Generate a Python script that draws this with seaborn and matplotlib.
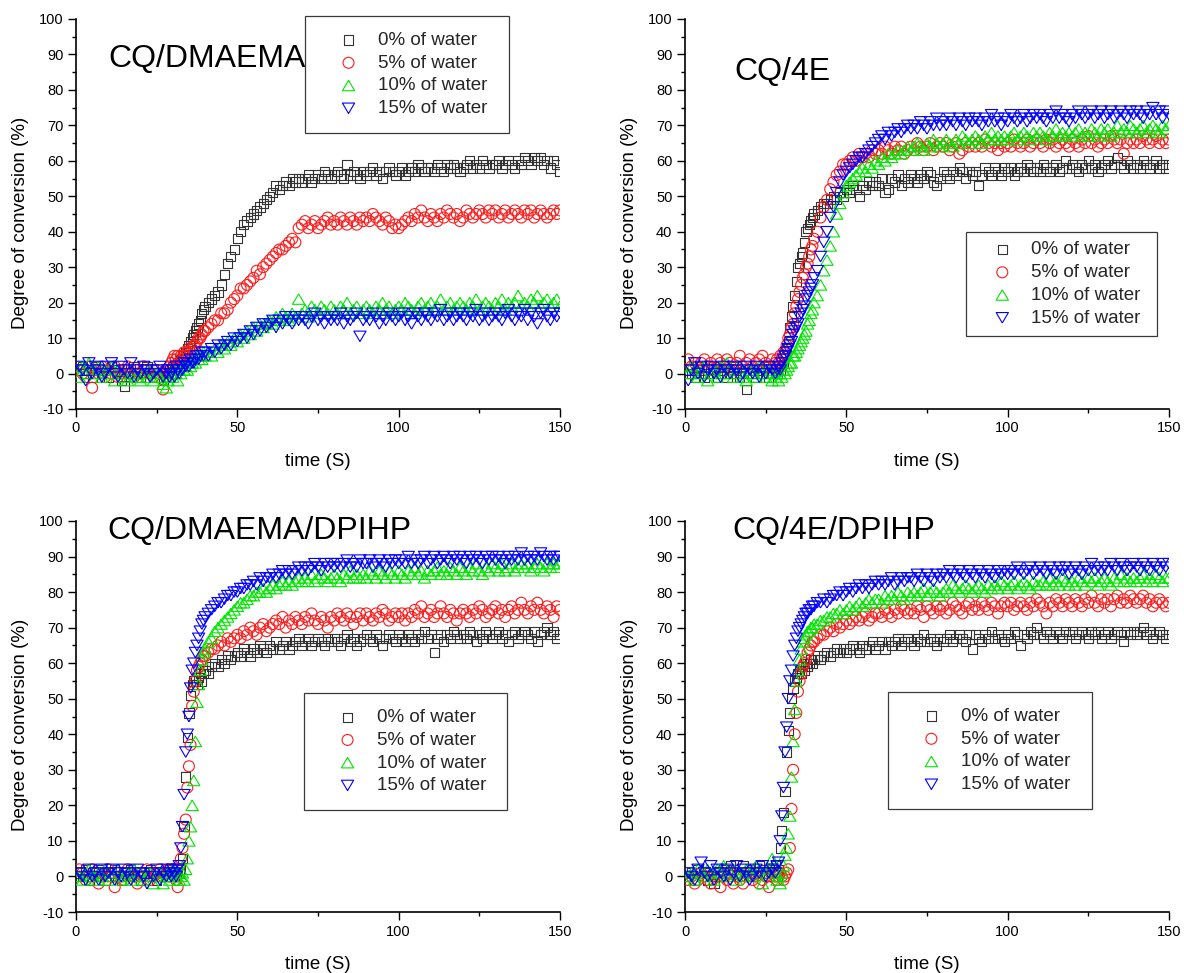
import numpy as np
import pandas as pd
import matplotlib
matplotlib.use("Agg")
import matplotlib.pyplot as plt
from matplotlib.ticker import MultipleLocator
import seaborn as sns

# ---------------- data ----------------
# sampling times (s): 1 s steps, 0.5 s steps around the onset of irradiation
time_s = np.concatenate([np.arange(1, 28, 1.0), np.arange(28, 40, 0.5), np.arange(40, 151, 1.0)])

series_labels = ["0% of water", "5% of water", "10% of water", "15% of water"]
panel_titles = ["CQ/DMAEMA", "CQ/4E", "CQ/DMAEMA/DPIHP", "CQ/4E/DPIHP"]
x_ticks = [0, 50, 100, 150]
y_ticks = [-10, 0, 10, 20, 30, 40, 50, 60, 70, 80, 90, 100]

# CQ/DMAEMA
dmaema_w0 = [1, 2, 0, 1, -1, 2, 1, 0, 1, -1, 2, 0, 1, -2, -3.5, 0, 1, 2, 0, -1, 1, 2, 0, 1, -1, 0, -2] + \
    [0, -1, 1, 0, 2, 1, 2, 3, 3, 4, 5, 5, 6, 7, 8, 9, 10, 11, 12, 13, 14, 15, 17, 18] + \
    [19, 20, 21, 22, 23, 25, 28, 31, 33, 35,
     38, 40, 42, 43, 44, 45, 46, 47, 48, 49,
     50, 51, 53, 52, 53, 54, 53, 55, 54, 55,
     54, 55, 56, 54, 55, 56, 55, 57, 56, 55,
     56, 57, 56, 55, 59, 56, 57, 56, 55, 57,
     56, 57, 58, 56, 57, 55, 57, 58, 57, 56,
     57, 58, 56, 57, 58, 57, 59, 58, 57, 58,
     58, 57, 59, 58, 57, 59, 58, 59, 58, 57,
     58, 59, 60, 58, 59, 58, 60, 59, 58, 59,
     59, 60, 58, 59, 60, 59, 58, 60, 59, 61,
     60, 59, 61, 60, 61, 59, 60, 58, 60, 59, 57]
dmaema_w5 = [1, 0, -1, 2, -4, 1, 0, 2, -1, 1, 0, 2, -1, 0, 1, 2, 0, -1, 1, 0, 2, 1, 0, -1, 1, 0, -4.5] + \
    [-1, 1, 2, 3, 4, 5, 4, 5, 3, 5, 4, 6, 5, 6, 7, 6, 7, 8, 8, 9, 10, 10, 11, 12] + \
    [12, 13, 14, 15, 15, 17, 17, 18, 20, 21,
     22, 24, 24, 25, 26, 27, 29, 28, 30, 31,
     32, 33, 34, 35, 35, 36, 37, 38, 37, 41,
     42, 43, 41, 42, 43, 41, 42, 43, 44, 42,
     43, 42, 44, 43, 42, 44, 43, 42, 44, 43,
     44, 43, 45, 44, 43, 42, 44, 43, 41, 42,
     41, 42, 43, 44, 43, 45, 44, 46, 44, 43,
     45, 44, 43, 45, 44, 46, 45, 44, 45, 43,
     44, 46, 45, 44, 45, 46, 45, 44, 46, 45,
     46, 44, 45, 46, 44, 45, 46, 45, 44, 46,
     45, 46, 44, 45, 46, 45, 44, 45, 46, 45, 46]
dmaema_w10 = [-1, 2, 0, 3, 1, 0, 2, -1, 1, 0, 2, -2, 1, 0, -1, -2, 1, 0, -1, -2, 0, -1, 1, -2, 0, -1, -3] + \
    [-4, -2, -1, 0, -1, 1, 0, -2, 1, 0, 2, 1, 2, 1, 3, 2, 3, 4, 3, 5, 4, 5, 4, 6] + \
    [5, 6, 5, 7, 6, 8, 7, 9, 8, 10,
     9, 11, 10, 12, 11, 13, 12, 14, 13, 14,
     15, 14, 16, 15, 17, 16, 15, 17, 16, 21,
     17, 18, 16, 19, 18, 17, 19, 18, 17, 19,
     18, 17, 19, 18, 20, 17, 18, 19, 17, 18,
     19, 18, 17, 19, 18, 20, 18, 19, 17, 18,
     19, 18, 20, 19, 18, 17, 19, 20, 18, 19,
     20, 18, 19, 21, 18, 19, 20, 18, 19, 20,
     19, 18, 20, 19, 21, 18, 19, 20, 19, 18,
     20, 19, 21, 18, 20, 19, 20, 22, 19, 20,
     19, 21, 20, 22, 19, 20, 21, 19, 20, 21, 19]
dmaema_w15 = [2, 1, -2, 3, 0, 2, 1, -1, 0, 2, 3, 0, -1, 2, 1, 0, 3, -1, 1, 0, 2, 1, -1, 0, 1, 2, -1] + \
    [0, 1, -1, 0, 1, -1, 2, 1, 0, 2, 1, 3, 2, 3, 2, 4, 3, 3, 4, 5, 4, 5, 6, 5] + \
    [6, 5, 7, 6, 8, 7, 8, 9, 8, 10,
     9, 10, 11, 10, 12, 11, 13, 12, 14, 13,
     14, 15, 13, 15, 14, 16, 15, 14, 16, 15,
     16, 15, 14, 16, 17, 15, 16, 14, 16, 15,
     16, 15, 17, 14, 16, 15, 16, 17, 10.5, 15,
     16, 15, 17, 16, 14, 16, 15, 17, 16, 15,
     16, 17, 15, 16, 14, 17, 16, 15, 17, 16,
     15, 17, 16, 18, 15, 16, 17, 15, 16, 17,
     16, 15, 17, 16, 18, 15, 16, 17, 15, 16,
     17, 16, 15, 17, 18, 16, 15, 17, 16, 18,
     15, 17, 16, 14, 17, 18, 16, 15, 17, 16, 17]

# CQ/4E
e4_w0 = [1, 0, -1, 2, 1, -1, 0, 1, 2, -1, 0, 1, -1, 0, 2, 1, -1, 0, -4.5, 1, 0, -1, 1, 0, 2, -1, 0] + \
    [1, 0, 2, 1, 2, 3, 5, 7, 9, 13, 16, 19, 22, 26, 30, 31, 33, 34, 37, 40, 41, 42, 43, 44] + \
    [45, 46, 47, 48, 48, 49, 50, 49, 51, 50,
     52, 51, 53, 52, 50, 53, 52, 54, 53, 54,
     53, 55, 51, 52, 55, 54, 56, 53, 55, 54,
     56, 55, 54, 56, 55, 57, 56, 54, 53, 55,
     57, 56, 55, 57, 56, 58, 57, 55, 57, 56,
     57, 53, 56, 58, 57, 56, 58, 57, 56, 58,
     57, 58, 56, 57, 58, 57, 59, 58, 57, 58,
     57, 59, 58, 57, 58, 59, 57, 58, 60, 58,
     59, 58, 57, 59, 58, 60, 58, 59, 57, 58,
     59, 60, 58, 59, 61, 59, 58, 60, 59, 58,
     59, 58, 60, 59, 58, 59, 60, 58, 59, 58, 59]
e4_w5 = [4, 2, 3, 1, 3, 4, 2, 3, 1, 4, 3, 2, 4, 3, 1, 3, 5, 2, 3, 4, 2, 3, 4, 5, 3, 2, 4] + \
    [3, 4, 3, 5, 4, 6, 6, 8, 10, 11, 13, 14, 17, 19, 21, 23, 25, 27, 28, 30, 31, 33, 35, 36] + \
    [38, 40, 44, 47, 49, 52, 54, 56, 57, 59,
     59, 60, 61, 60, 62, 61, 62, 61, 63, 62,
     63, 62, 64, 63, 62, 64, 63, 64, 62, 63,
     64, 63, 65, 64, 63, 64, 65, 63, 64, 65,
     64, 65, 63, 64, 65, 62, 63, 65, 64, 65,
     64, 65, 64, 66, 65, 64, 65, 63, 65, 64,
     65, 64, 66, 65, 64, 65, 66, 64, 65, 66,
     65, 64, 66, 65, 66, 64, 65, 66, 65, 64,
     66, 65, 64, 66, 65, 67, 65, 66, 64, 65,
     66, 65, 67, 66, 65, 66, 62, 65, 66, 65,
     66, 65, 67, 66, 65, 66, 67, 65, 66, 65, 66]
e4_w10 = [0, 2, 1, -1, 0, 2, -2, 0, 1, -1, 2, 0, 3, 1, -1, 0, 2, -1, -2, 1, 0, -1, 2, 0, -1, 1, -2] + \
    [-1, 0, -2, 0, -1, 1, 0, 1, 2, 3, 3, 5, 5, 6, 7, 8, 9, 10, 11, 12, 14, 15, 17, 18] + \
    [20, 22, 25, 29, 32, 36, 40, 45, 48, 51,
     53, 54, 55, 56, 57, 58, 57, 59, 58, 60,
     59, 61, 60, 62, 61, 62, 63, 62, 63, 64,
     63, 64, 65, 64, 63, 65, 64, 66, 65, 64,
     65, 66, 65, 64, 66, 65, 67, 66, 65, 66,
     67, 66, 65, 67, 66, 68, 66, 67, 66, 67,
     66, 67, 68, 66, 67, 68, 67, 66, 68, 67,
     68, 67, 66, 68, 67, 69, 67, 68, 67, 68,
     67, 68, 69, 67, 68, 67, 69, 68, 67, 69,
     68, 69, 67, 68, 70, 68, 69, 68, 70, 69,
     68, 69, 70, 68, 69, 70, 69, 68, 70, 69, 70]
e4_w15 = [-2, 1, 3, 0, 2, -1, 1, 2, 0, 1, -1, 2, 1, 0, 2, 1, -1, 0, 2, 1, 0, 2, -1, 1, 0, 2, 1] + \
    [0, 1, 2, 1, 3, 4, 5, 6, 7, 8, 9, 11, 12, 13, 14, 16, 17, 18, 19, 21, 22, 23, 24, 25] + \
    [27, 29, 33, 37, 40, 44, 47, 51, 54, 56,
     57, 58, 59, 60, 61, 61, 62, 63, 64, 65,
     66, 67, 66, 68, 67, 68, 69, 68, 69, 70,
     69, 70, 69, 71, 70, 69, 71, 70, 72, 70,
     71, 70, 72, 71, 70, 72, 71, 70, 72, 71,
     72, 71, 70, 72, 71, 73, 71, 72, 70, 72,
     71, 73, 72, 71, 72, 73, 71, 72, 73, 72,
     73, 72, 71, 73, 72, 74, 72, 73, 72, 71,
     73, 72, 74, 73, 72, 73, 74, 72, 73, 74,
     72, 73, 74, 72, 73, 74, 73, 72, 74, 73,
     74, 73, 72, 74, 73, 75, 73, 74, 72, 74, 73]

# CQ/DMAEMA/DPIHP
dmaema_dpi_w0 = [1, 0, 2, -1, 1, 0, 2, 1, -1, 0, 1, 2, 0, -1, 1, 0, 2, 1, 0, -1, 1, 0, 2, 1, -1, 0, 1] + \
    [0, 1, 2, 0, 1, 0, 1, 2, 1, 2, 5, 14, 28, 39, 46, 51, 54, 55, 55, 54, 56, 57, 55, 57] + \
    [58, 57, 59, 60, 59, 61, 60, 62, 61, 62,
     63, 62, 64, 63, 62, 64, 63, 65, 64, 63,
     65, 64, 66, 64, 65, 66, 64, 65, 66, 67,
     65, 66, 67, 65, 66, 67, 66, 65, 67, 66,
     67, 66, 65, 67, 68, 66, 67, 65, 66, 67,
     68, 67, 66, 68, 67, 65, 67, 68, 67, 66,
     68, 67, 66, 68, 67, 66, 68, 67, 69, 67,
     68, 63, 67, 68, 66, 68, 67, 69, 68, 67,
     68, 67, 69, 68, 66, 68, 67, 69, 68, 67,
     68, 69, 67, 68, 66, 68, 69, 67, 68, 69,
     68, 67, 69, 66, 68, 69, 70, 68, 69, 67, 68]
dmaema_dpi_w5 = [2, 1, -1, 0, 2, 1, -2, 0, 1, 2, 0, -3, 1, 0, -1, 2, 1, 0, -2, 1, 0, 2, -1, 0, 1, 2, 0] + \
    [1, 2, 0, 1, 2, 0, -1, -3, 3, 5, 8, 12, 16, 25, 31, 37, 48, 52, 55, 58, 59, 60, 61, 62] + \
    [62, 63, 64, 64, 65, 66, 65, 67, 66, 67,
     68, 67, 69, 68, 70, 69, 68, 70, 71, 69,
     70, 71, 72, 71, 73, 70, 72, 71, 73, 72,
     71, 73, 72, 74, 72, 71, 73, 72, 70, 73,
     72, 74, 73, 72, 74, 73, 71, 73, 74, 72,
     74, 73, 72, 74, 73, 75, 74, 72, 73, 74,
     73, 74, 72, 74, 73, 75, 74, 76, 73, 74,
     75, 73, 74, 76, 74, 73, 75, 74, 72, 74,
     75, 74, 73, 75, 74, 76, 75, 73, 74, 75,
     76, 74, 75, 73, 75, 76, 74, 75, 77, 75,
     74, 76, 75, 77, 75, 74, 76, 75, 73, 76, 75]
dmaema_dpi_w10 = [0, -1, 1, 2, 0, -1, 1, 0, 2, -1, 0, 1, 2, -1, 0, 1, -1, 2, 0, 1, -1, 0, 1, -2, 0, 1, -2] + \
    [0, 1, -1, 0, 2, 1, 0, 1, -1, 0, 1, -1, 2, 5, 10, 14, 20, 27, 38, 49, 54, 58, 61, 63] + \
    [64, 66, 67, 69, 70, 71, 72, 73, 74, 75,
     76, 77, 77, 78, 79, 79, 80, 80, 81, 80,
     81, 82, 81, 82, 83, 82, 83, 82, 83, 84,
     83, 84, 83, 85, 83, 84, 85, 84, 83, 84,
     85, 84, 83, 85, 84, 86, 84, 85, 84, 85,
     84, 86, 85, 84, 86, 85, 84, 86, 85, 84,
     86, 85, 84, 86, 85, 87, 85, 86, 84, 86,
     85, 86, 87, 85, 86, 85, 87, 86, 85, 87,
     86, 85, 87, 86, 88, 86, 85, 87, 86, 88,
     87, 86, 88, 86, 87, 88, 86, 87, 88, 87,
     88, 86, 87, 88, 87, 86, 88, 87, 88, 87, 88]
dmaema_dpi_w15 = [1, 0, -1, 2, 0, 1, -1, 2, 0, 1, 2, -1, 1, 0, 2, 1, -1, 0, 2, 1, 0, -2, 1, 0, 2, -1, 1] + \
    [0, 2, 1, 0, 2, 1, 0, 2, 3, 8, 14, 23, 35, 40, 45, 53, 58, 60, 63, 65, 67, 69, 71, 72] + \
    [73, 74, 75, 76, 77, 77, 78, 79, 79, 80,
     80, 81, 81, 82, 82, 83, 82, 84, 83, 84,
     84, 85, 84, 85, 86, 85, 86, 85, 86, 87,
     86, 87, 86, 87, 88, 87, 86, 88, 87, 88,
     87, 88, 87, 88, 89, 87, 88, 87, 89, 88,
     88, 89, 87, 88, 89, 88, 87, 89, 88, 89,
     88, 89, 88, 90, 88, 89, 88, 89, 90, 88,
     89, 90, 88, 89, 90, 89, 88, 90, 89, 90,
     89, 88, 90, 89, 90, 89, 88, 90, 89, 90,
     89, 90, 89, 88, 90, 89, 90, 89, 91, 89,
     90, 89, 90, 89, 91, 90, 89, 90, 89, 90, 90]

# CQ/4E/DPIHP
e4_dpi_w0 = [0, 1, -1, 2, 0, 1, -1, 0, -2, 1, 0, 2, 1, 3, 2, 1, 0, 3, 1, 2, 0, 1, 3, 2, 1, 0, 2] + \
    [3, 1, 2, 8, 13, 18, 24, 35, 41, 46, 50, 53, 55, 56, 57, 58, 57, 59, 58, 60, 59, 60, 61, 60] + \
    [61, 62, 61, 62, 63, 62, 63, 64, 63, 64,
     63, 64, 65, 64, 63, 65, 64, 65, 66, 64,
     65, 66, 64, 66, 65, 66, 67, 65, 66, 67,
     66, 65, 67, 66, 68, 66, 67, 66, 65, 67,
     66, 67, 68, 66, 67, 68, 67, 66, 68, 64,
     68, 67, 66, 68, 67, 69, 67, 68, 67, 66,
     68, 67, 69, 68, 65, 68, 67, 69, 68, 70,
     68, 67, 69, 68, 67, 69, 68, 67, 69, 68,
     69, 67, 68, 69, 68, 67, 69, 68, 69, 67,
     68, 69, 67, 68, 69, 68, 66, 69, 68, 69,
     68, 69, 70, 68, 69, 67, 68, 69, 68, 67, 68]
e4_dpi_w5 = [-1, 0, -2, -1, 1, 0, -1, -2, 0, 1, -3, 0, -1, 1, -2, 0, -1, -2, 0, 1, -1, 0, -2, -1, 0, -3, 1] + \
    [0, -1, 0, 1, 0, -1, 0, 1, 2, 8, 19, 30, 40, 46, 52, 55, 57, 59, 60, 61, 63, 64, 65, 66] + \
    [66, 67, 68, 68, 69, 70, 69, 71, 70, 71,
     72, 71, 72, 73, 72, 73, 74, 72, 73, 74,
     74, 73, 75, 74, 73, 75, 74, 76, 75, 74,
     75, 74, 76, 75, 73, 76, 75, 74, 76, 75,
     76, 74, 75, 77, 76, 75, 74, 76, 77, 75,
     76, 75, 77, 76, 75, 77, 76, 74, 76, 77,
     76, 77, 75, 76, 77, 76, 75, 77, 76, 78,
     77, 76, 74, 77, 76, 78, 77, 76, 78, 77,
     76, 78, 77, 76, 78, 77, 79, 77, 76, 78,
     77, 78, 76, 78, 79, 77, 78, 77, 79, 78,
     77, 78, 79, 77, 78, 76, 77, 78, 77, 76, 77]
e4_dpi_w10 = [0, 1, -1, 2, 1, 0, 2, 1, -1, 2, 1, 3, 0, 1, 2, -1, 1, 0, 2, 1, 0, 3, 2, -2, 1, 2, 5] + \
    [1, -1, 0, -2, 1, 3, 6, 8, 12, 17, 28, 38, 47, 55, 58, 61, 64, 66, 67, 68, 69, 69, 70, 70] + \
    [71, 71, 72, 72, 73, 73, 74, 74, 75, 74,
     75, 76, 75, 76, 77, 76, 77, 78, 77, 78,
     78, 77, 79, 78, 79, 78, 80, 79, 78, 80,
     79, 80, 79, 80, 81, 79, 80, 81, 80, 79,
     80, 81, 80, 82, 81, 80, 81, 82, 81, 80,
     81, 82, 81, 80, 82, 81, 82, 81, 83, 82,
     81, 82, 83, 81, 82, 83, 82, 81, 83, 82,
     82, 83, 82, 84, 82, 83, 82, 84, 83, 82,
     83, 82, 84, 83, 82, 84, 83, 84, 82, 83,
     84, 83, 82, 84, 83, 85, 83, 84, 83, 84,
     83, 84, 85, 83, 84, 83, 85, 84, 83, 84, 84]
e4_dpi_w15 = [1, 0, -1, 2, 4, 1, 0, 3, -1, 2, 1, 0, 2, -1, 1, 3, 0, 2, 1, -1, 0, 2, 1, 3, 0, 1, 2] + \
    [1, 3, 4, 10, 17, 25, 35, 42, 50, 55, 58, 62, 65, 67, 69, 70, 71, 72, 73, 74, 74, 75, 75, 76] + \
    [76, 77, 77, 78, 77, 78, 79, 79, 80, 79,
     80, 81, 80, 81, 82, 81, 82, 81, 82, 83,
     82, 83, 82, 83, 84, 82, 83, 84, 83, 84,
     84, 83, 85, 84, 83, 85, 84, 83, 85, 84,
     85, 84, 86, 85, 84, 86, 85, 84, 86, 85,
     84, 86, 85, 84, 86, 85, 84, 86, 85, 86,
     85, 86, 85, 87, 86, 85, 86, 87, 85, 86,
     87, 86, 85, 87, 86, 85, 87, 86, 87, 85,
     86, 87, 86, 85, 87, 86, 88, 86, 87, 86,
     87, 86, 88, 87, 86, 88, 87, 86, 87, 88,
     87, 86, 88, 87, 86, 88, 87, 86, 88, 87, 88]

panel_series = [
    [dmaema_w0, dmaema_w5, dmaema_w10, dmaema_w15],
    [e4_w0, e4_w5, e4_w10, e4_w15],
    [dmaema_dpi_w0, dmaema_dpi_w5, dmaema_dpi_w10, dmaema_dpi_w15],
    [e4_dpi_w0, e4_dpi_w5, e4_dpi_w10, e4_dpi_w15],
]

rows = []
for p, title in enumerate(panel_titles):
    for s, lab in enumerate(series_labels):
        vals = panel_series[p][s]
        assert len(vals) == len(time_s), (title, lab, len(vals))
        for t, v in zip(time_s, vals):
            rows.append((title, lab, t, v))
df = pd.DataFrame(rows, columns=["panel", "series", "time", "conversion"])

# ---------------- style ----------------
sns.set_theme(style="ticks")
plt.rcParams["font.family"] = ["Liberation Sans", "DejaVu Sans"]
plt.rcParams["axes.unicode_minus"] = False

colors = ["#333333", "#ff1a1a", "#00e600", "#0000ff"]
tri_up = [(0, 0.85), (-1, -0.85), (1, -0.85), (0, 0.85)]
tri_dn = [(0, -0.85), (-1, 0.85), (1, 0.85), (0, -0.85)]
markers = ["s", "o", tri_up, tri_dn]
sizes = [44, 62, 78, 78]

fig = plt.figure(figsize=(11.84, 9.73), dpi=100)
W, H = 1184.0, 973.0
# axes rectangles in pixels: left, top, right, bottom
ax_px = [(76, 19, 560, 409), (685, 19, 1169, 409), (76, 521, 560, 912), (685, 521, 1169, 912)]
title_pos = [(0.066, 0.877), (0.103, 0.844), (0.064, 0.954), (0.097, 0.954)]
# legend: x0, top, width (axes fraction), borderpad, handlelength, handletextpad
leg_cfg = [(0.473, 1.008, 0.421, 0.85, 2.95, 0.1),
           (0.581, 0.454, 0.395, 0.5, 2.85, 0.1),
           (0.471, 0.560, 0.420, 0.85, 2.95, 0.1),
           (0.419, 0.563, 0.421, 0.85, 2.95, 0.1)]

for p, title in enumerate(panel_titles):
    l, t, r, b = ax_px[p]
    ax = fig.add_axes([l / W, 1 - b / H, (r - l) / W, (b - t) / H])
    sub = df[df["panel"] == title]
    for s, lab in enumerate(series_labels):
        d = sub[sub["series"] == lab]
        sns.scatterplot(data=d, x="time", y="conversion", ax=ax, marker=markers[s],
                        s=sizes[s], color=colors[s], facecolor="none", edgecolor=colors[s],
                        linewidth=0.8, label=lab, legend=False, zorder=2 + s)
    ax.set_xlim(0, 150)
    ax.set_ylim(-10, 100)
    ax.set_xticks(x_ticks)
    ax.set_yticks(y_ticks)
    ax.xaxis.set_minor_locator(MultipleLocator(25))
    ax.yaxis.set_minor_locator(MultipleLocator(5))
    ax.tick_params(which="major", direction="out", length=5.5, width=1.0, labelsize=10.5,
                   pad=3.5, color="black", labelcolor="black")
    ax.tick_params(which="minor", direction="out", length=3, width=1.0, color="black")
    for side in ["top", "right"]:
        ax.spines[side].set_visible(False)
    for side in ["left", "bottom"]:
        ax.spines[side].set_linewidth(1.2)
        ax.spines[side].set_color("black")
    ax.set_xlabel("time (S)", fontsize=13.5, color="black")
    ax.set_ylabel("Degree of conversion (%)", fontsize=13.5, color="black")
    ax.xaxis.set_label_coords(0.5, -0.112)
    ax.yaxis.set_label_coords(-0.097, 0.478)
    ax.text(title_pos[p][0], title_pos[p][1], title, transform=ax.transAxes,
            fontsize=23, ha="left", va="baseline", color="black", zorder=10)
    x0, top, w, bp, hl, htp = leg_cfg[p]
    handles, labels = ax.get_legend_handles_labels()
    leg = ax.legend(handles, labels, loc="upper left", bbox_to_anchor=(x0, top, w, 0),
                    mode="expand", borderaxespad=0, fontsize=13.5, frameon=True,
                    fancybox=False, framealpha=1, edgecolor="#3a3a3a", borderpad=bp,
                    handlelength=hl, handletextpad=htp, labelspacing=0.3, scatterpoints=1)
    leg.get_frame().set_linewidth(0.9)
    leg.set_zorder(20)

fig.savefig("out.png", dpi=100)
